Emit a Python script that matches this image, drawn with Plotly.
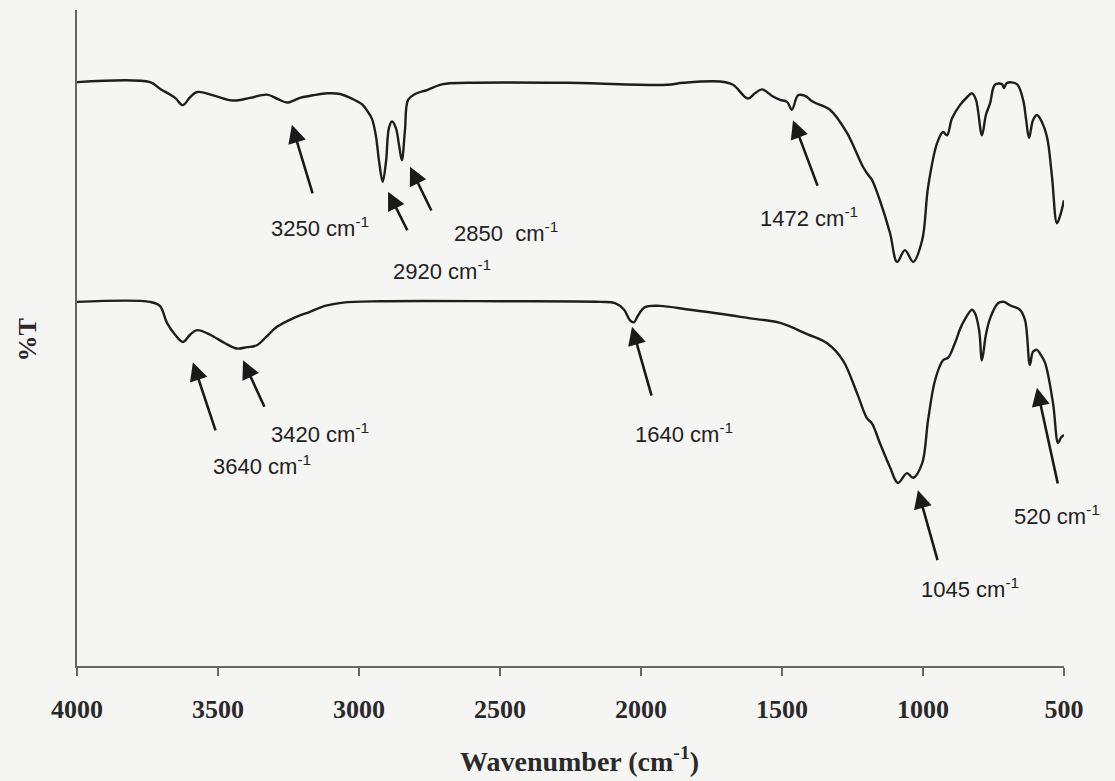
import plotly.graph_objects as go

# ---------------- data (wavenumber cm-1, %T) ----------------
wn_b = [4000, 3741, 3706, 3652, 3625, 3599, 3574, 3511, 3447, 3387, 3326, 3287, 3255, 3209,
        3163, 3113, 3067, 3021, 2989, 2972, 2954, 2940, 2929, 2916, 2904, 2894, 2883, 2869,
        2858, 2848, 2837, 2826, 2801, 2759, 2702, 2617, 2262, 1908, 1851, 1720, 1674, 1621,
        1596, 1571, 1535, 1507, 1482, 1465, 1443, 1418, 1390, 1330, 1270, 1213, 1195, 1181,
        1153, 1117, 1092, 1064, 1035, 1003, 982, 950, 929, 915, 897, 869, 844, 826, 812, 791,
        777, 762, 745, 720, 713, 702, 667, 645, 635, 624, 610, 596, 578, 560, 543, 525, 514, 500]
t_b = [89.0, 89.0, 88.0, 86.6, 85.5, 86.7, 87.5, 86.9, 86.2, 86.6, 87.1, 86.4, 85.9, 86.6,
       87.0, 87.3, 87.2, 86.4, 85.6, 84.7, 83.4, 80.8, 77.0, 73.8, 77.0, 82.0, 83.0, 82.0,
       79.4, 77.1, 81.7, 86.3, 87.2, 87.8, 88.7, 88.9, 88.9, 88.6, 88.9, 89.1, 88.6, 86.5,
       87.3, 87.9, 86.9, 86.3, 86.0, 84.8, 87.0, 86.9, 86.0, 84.8, 81.3, 76.1, 74.9, 74.1,
       71.0, 66.0, 61.6, 63.4, 61.6, 64.9, 73.0, 79.7, 81.4, 80.9, 83.5, 85.5, 86.7, 87.3, 86.3, 80.9,
       84.0, 85.8, 88.6, 88.7, 88.1, 88.9, 88.7, 86.3, 83.5, 80.5, 83.2, 84.0, 82.9, 80.6, 74.8, 67.5, 68.6, 71.0]

wn_a = [4000, 3741, 3706, 3681, 3652, 3624, 3599, 3574, 3528, 3475, 3433, 3397, 3362, 3326,
        3291, 3234, 3174, 3121, 3057, 2926, 2500, 2145, 2092, 2060, 2039, 2025, 2011, 1986,
        1933, 1826, 1720, 1613, 1507, 1411, 1340, 1284, 1234, 1199, 1181, 1153, 1117, 1089,
        1057, 1035, 1003, 982, 957, 929, 911, 887, 862, 826, 816, 801, 791, 777, 762, 734,
        713, 692, 656, 638, 621, 610, 596, 582, 567, 539, 521, 511, 500]
t_a = [55.5, 55.5, 54.9, 52.3, 50.5, 49.4, 50.5, 51.2, 50.5, 49.2, 48.4, 48.6, 48.9, 50.3,
       51.7, 53.0, 54.0, 54.9, 55.4, 55.6, 55.6, 55.5, 55.3, 54.3, 52.7, 52.4, 53.4, 54.7,
       54.9, 54.3, 53.7, 53.0, 52.3, 50.6, 49.2, 46.6, 41.6, 37.8, 37.0, 34.0, 30.3, 27.9,
       29.4, 28.7, 30.9, 37.5, 43.6, 46.6, 47.0, 49.2, 52.0, 54.3, 53.8, 51.2, 46.6, 50.5, 53.0, 55.3,
       55.5, 55.0, 54.3, 52.7, 45.9, 47.9, 48.2, 47.4, 46.2, 40.1, 34.0, 34.8, 35.2]

x_ticks = [4000, 3500, 3000, 2500, 2000, 1500, 1000, 500]
series_labels = ["(b)", "(a)"]

# peak annotations: label, arrow head (wn, T), arrow tail (wn, T), text centre (wn, T)
peak_labels = ["3250 cm<sup>-1</sup>", "2920 cm<sup>-1</sup>", "2850  cm<sup>-1</sup>",
               "1472 cm<sup>-1</sup>", "3640 cm<sup>-1</sup>", "3420 cm<sup>-1</sup>",
               "1640 cm<sup>-1</sup>", "1045 cm<sup>-1</sup>", "520 cm<sup>-1</sup>"]
head_wn = [3238, 2897, 2819, 1461, 3589, 3411, 2032, 1018, 596]
head_t = [82.5, 72.3, 76.1, 83.2, 46.3, 46.6, 51.7, 26.8, 42.4]
tail_wn = [3163, 2826, 2741, 1372, 3507, 3333, 1961, 947, 521]
tail_t = [71.8, 66.2, 69.2, 73.0, 35.7, 39.3, 41.0, 15.9, 27.6]
text_wn = [3140, 2705, 2480, 1405, 3345, 3140, 1848, 833, 525]
text_t = [66.9, 60.4, 66.2, 68.4, 30.6, 35.5, 35.5, 11.9, 23.0]
series_label_wn = [408, 408]
series_label_t = [72.3, 37.0]

# ---------------- figure ----------------
line_col = "#1e1e1e"
fig = go.Figure()
fig.add_trace(go.Scatter(x=wn_b, y=t_b, mode="lines", line=dict(color=line_col, width=2.4),
                         line_shape="spline", showlegend=False, hoverinfo="skip"))
fig.add_trace(go.Scatter(x=wn_a, y=t_a, mode="lines", line=dict(color=line_col, width=2.4),
                         line_shape="spline", showlegend=False, hoverinfo="skip"))

ann_font = dict(family="Liberation Sans, Arial, sans-serif", size=22, color="#222222")
annotations = []
for i in range(len(peak_labels)):
    annotations.append(dict(x=head_wn[i], y=head_t[i], ax=tail_wn[i], ay=tail_t[i],
                            xref="x", yref="y", axref="x", ayref="y", text="",
                            showarrow=True, arrowhead=2, arrowsize=1.4, arrowwidth=2.6,
                            arrowcolor="#1a1a1a", standoff=0, startstandoff=0))
    annotations.append(dict(x=text_wn[i], y=text_t[i], xref="x", yref="y", text=peak_labels[i],
                            showarrow=False, font=ann_font, xanchor="center", yanchor="middle"))
for lab, xw, yt in zip(series_labels, series_label_wn, series_label_t):
    annotations.append(dict(x=xw, y=yt, xref="x", yref="y", text=lab, showarrow=False,
                            font=ann_font, xanchor="center", yanchor="middle"))

serif_bold = dict(family="Liberation Serif, Times New Roman, serif", color="#2a2a2a", weight="bold")
annotations.append(dict(x=0.509, y=-0.143, xref="paper", yref="paper",
                        text="Wavenumber (cm<sup>-1</sup>)", showarrow=False,
                        font=dict(size=28, **serif_bold), xanchor="center", yanchor="middle"))
annotations.append(dict(x=-0.05, y=0.497, xref="paper", yref="paper", text="%T",
                        showarrow=False, textangle=-90,
                        font=dict(size=26, **serif_bold), xanchor="center", yanchor="middle"))

fig.update_layout(
    width=1115, height=781,
    margin=dict(l=77, r=51, t=10, b=115),
    paper_bgcolor="#f5f5f3", plot_bgcolor="#f5f5f3",
    annotations=annotations,
    showlegend=False,
)
fig.update_xaxes(range=[4000, 500], tickvals=x_ticks, ticktext=[str(v) for v in x_ticks],
                 showgrid=False, zeroline=False, showline=True, linecolor="#666666", linewidth=2,
                 ticks="outside", ticklen=8, tickwidth=1.5, tickcolor="#666666",
                 tickfont=dict(size=26, **serif_bold), ticklabelstandoff=11)
fig.update_yaxes(range=[0, 100], showgrid=False, zeroline=False, showline=True,
                 linecolor="#666666", linewidth=2, showticklabels=False, ticks="")

fig.write_html("out.html")
